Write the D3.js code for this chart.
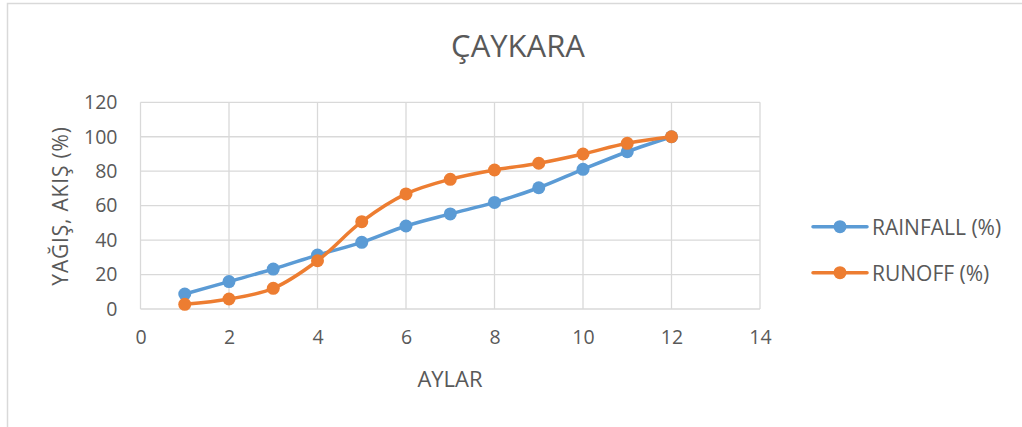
<!DOCTYPE html>
<html>
<head>
<meta charset="utf-8">
<script src="https://cdn.jsdelivr.net/npm/d3@7.9.0/dist/d3.min.js"></script>
<style>
  body { margin: 0; background: #fff; }
  svg text { font-family: "Open Sans", sans-serif; fill: #595959; }
</style>
</head>
<body>
<svg id="chart" width="1022" height="427"></svg>
<script>
// Chart data
const months = [1, 2, 3, 4, 5, 6, 7, 8, 9, 10, 11, 12];
const rainfall = [8.7, 15.9, 23.2, 31.3, 38.7, 48.2, 55.2, 61.9, 70.4, 81.1, 91.3, 100];
const runoff = [2.7, 5.8, 12, 28, 50.7, 66.8, 75.3, 80.7, 84.6, 90, 96.2, 100];
const seriesNames = ['RAINFALL (%)', 'RUNOFF (%)'];
const seriesColors = ['#5B9BD5', '#ED7D31'];
const xTicks = [0, 2, 4, 6, 8, 10, 12, 14];
const yTicks = [0, 20, 40, 60, 80, 100, 120];

const svg = d3.select('#chart');

// outer chart border (only top/left visible in the crop)
svg.append('path')
  .attr('d', 'M7.5,427 V3.5 H1022')
  .attr('fill', 'none')
  .attr('stroke', '#d9d9d9')
  .attr('stroke-width', 1.5);

const plot = { left: 140.5, right: 760, top: 102.3, bottom: 309 };

const x = d3.scaleLinear().domain([0, 14]).range([plot.left, plot.right]);
const y = d3.scaleLinear().domain([0, 120]).range([plot.bottom, plot.top]);

// gridlines
const grid = svg.append('g');
grid.selectAll('.vg')
  .data(xTicks)
  .join('line')
  .attr('x1', (d) => x(d)).attr('x2', (d) => x(d))
  .attr('y1', plot.top).attr('y2', plot.bottom)
  .attr('stroke', '#d9d9d9').attr('stroke-width', 1.3);
grid.selectAll('.hg')
  .data(yTicks)
  .join('line')
  .attr('x1', plot.left).attr('x2', plot.right)
  .attr('y1', (d) => y(d)).attr('y2', (d) => y(d))
  .attr('stroke', '#d9d9d9').attr('stroke-width', 1.3);

// axes (labels only, Excel style)
const xAxis = svg.append('g')
  .attr('transform', `translate(0,${plot.bottom})`)
  .call(d3.axisBottom(x).tickValues(xTicks).tickSize(0).tickPadding(21));
const yAxis = svg.append('g')
  .attr('transform', `translate(${plot.left},0)`)
  .call(d3.axisLeft(y).tickValues(yTicks).tickSize(0).tickPadding(23));
[xAxis, yAxis].forEach((a) => {
  a.select('.domain').remove();
  a.selectAll('text').attr('font-size', 19.5).attr('font-family', '"Open Sans", sans-serif').attr('fill', '#595959');
});

// series
const line = d3.line()
  .x((d) => x(d[0]))
  .y((d) => y(d[1]))
  .curve(d3.curveCatmullRom.alpha(0.5));

[rainfall, runoff].forEach((values, i) => {
  const pts = months.map((m, j) => [m, values[j]]);
  const g = svg.append('g');
  g.append('path')
    .attr('d', line(pts))
    .attr('fill', 'none')
    .attr('stroke', seriesColors[i])
    .attr('stroke-width', 3.5)
    .attr('stroke-linejoin', 'round');
  g.selectAll('circle')
    .data(pts)
    .join('circle')
    .attr('cx', (d) => x(d[0]))
    .attr('cy', (d) => y(d[1]))
    .attr('r', 6.5)
    .attr('fill', seriesColors[i]);
});

// title
svg.append('text')
  .attr('x', 518).attr('y', 57)
  .attr('text-anchor', 'middle')
  .attr('font-size', 31)
  .text('ÇAYKARA');

// axis titles
svg.append('text')
  .attr('x', 450).attr('y', 387)
  .attr('text-anchor', 'middle')
  .attr('font-size', 22)
  .text('AYLAR');

svg.append('text')
  .attr('transform', 'translate(68,206) rotate(-90)')
  .attr('text-anchor', 'middle')
  .attr('font-size', 21)
  .attr('letter-spacing', 0.8)
  .text('YAĞIŞ, AKIŞ (%)');

// legend
const legend = svg.append('g');
seriesNames.forEach((name, i) => {
  const ly = 226.7 + i * 46;
  legend.append('line')
    .attr('x1', 813).attr('x2', 867)
    .attr('y1', ly).attr('y2', ly)
    .attr('stroke', seriesColors[i])
    .attr('stroke-width', 3.5)
    .attr('stroke-linecap', 'round');
  legend.append('circle')
    .attr('cx', 840).attr('cy', ly)
    .attr('r', 6.5)
    .attr('fill', seriesColors[i]);
  legend.append('text')
    .attr('x', 872).attr('y', ly + 8)
    .attr('font-size', 21)
    .text(name);
});
</script>
</body>
</html>
